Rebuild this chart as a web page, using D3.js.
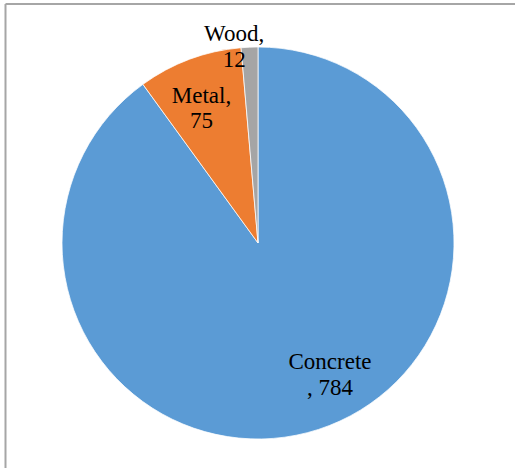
<!DOCTYPE html>
<html>
<head>
<meta charset="utf-8">
<script src="https://cdn.jsdelivr.net/npm/d3@7"></script>
<style>
  html, body { margin: 0; padding: 0; background: #fff; }
  svg { display: block; }
</style>
</head>
<body>
<svg id="chart" width="515" height="468"></svg>
<script>
// Material categories and counts
const categories = ["Concrete", "Metal", "Wood"];
const values = [784, 75, 12];
const colors = ["#5b9bd5", "#ed7d31", "#a5a5a5"];

// Label placement: angle (deg, clockwise from 12 o'clock) and distance from centre
const labelAngles = [152.6, 336.1, 352.8];
const labelRadii = [156.5, 139.5, 190.3];

const width = 515, height = 468;
const cx = 258, cy = 243, radius = 196;

const svg = d3.select("#chart");

// Chart frame (top and left edges visible)
svg.append("line").attr("x1", 5.5).attr("y1", 4).attr("x2", width).attr("y2", 4)
  .attr("stroke", "#a6a6a6").attr("stroke-width", 2);
svg.append("line").attr("x1", 5.5).attr("y1", 4).attr("x2", 5.5).attr("y2", height)
  .attr("stroke", "#a6a6a6").attr("stroke-width", 2);

const data = categories.map((c, i) => ({ name: c, value: values[i], color: colors[i] }));

const pie = d3.pie().value(d => d.value).sort(null);
const arc = d3.arc().innerRadius(0).outerRadius(radius);

const g = svg.append("g").attr("transform", `translate(${cx},${cy})`);

g.selectAll("path")
  .data(pie(data))
  .join("path")
  .attr("d", arc)
  .attr("fill", d => d.data.color)
  .attr("stroke", "#ffffff")
  .attr("stroke-width", 0.75);

// Two-line data labels
const lineGap = 25.5;
const labels = g.selectAll("text.lbl")
  .data(data)
  .join("text")
  .attr("class", "lbl")
  .attr("font-family", "'Liberation Serif', 'Times New Roman', serif")
  .attr("font-size", 23)
  .attr("fill", "#000")
  .attr("text-anchor", "middle")
  .attr("transform", (d, i) => {
    const a = labelAngles[i] * Math.PI / 180;
    const x = Math.sin(a) * labelRadii[i];
    const y = -Math.cos(a) * labelRadii[i];
    return `translate(${x},${y})`;
  });

labels.each(function(d) {
  const t = d3.select(this);
  const first = d.name === "Concrete" ? d.name : d.name + ",";
  const second = d.name === "Concrete" ? ", " + d.value : String(d.value);
  t.append("tspan").attr("x", 0).attr("y", -lineGap / 2).text(first);
  t.append("tspan").attr("x", 0).attr("y", lineGap / 2).text(second);
});
</script>
</body>
</html>
